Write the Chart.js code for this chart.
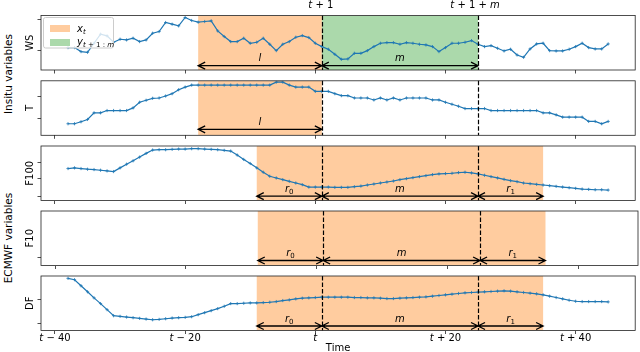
<!DOCTYPE html>
<html>
<head>
<meta charset="utf-8">
<script src="https://cdn.jsdelivr.net/npm/chart.js@4.4.1/dist/chart.umd.min.js"></script>
<style>
  html, body { margin: 0; padding: 0; background: #fff; }
  #fig { position: relative; width: 640px; height: 352px; overflow: hidden; font-family: "DejaVu Sans", sans-serif; }
  #fig canvas { position: absolute; left: 0; }
  .side { position: absolute; left: 8px; font-size: 10.5px; white-space: nowrap; color: #000;
          transform: translate(-50%, -50%) rotate(-90deg); }
</style>
</head>
<body>
<div id="fig">
  <div class="side" style="top:74px">Insitu variables</div>
  <div class="side" style="top:238px">ECMWF variables</div>
</div>
<script>
'use strict';

// time axis (hours relative to t)
var hours = [-38,-37,-36,-35,-34,-33,-32,-31,-30,-29,-28,-27,-26,-25,-24,-23,-22,-21,-20,-19,
  -18,-17,-16,-15,-14,-13,-12,-11,-10,-9,-8,-7,-6,-5,-4,-3,-2,-1,0,1,
  2,3,4,5,6,7,8,9,10,11,12,13,14,15,16,17,18,19,20,21,
  22,23,24,25,26,27,28,29,30,31,32,33,34,35,36,37,38,39,40,41,
  42,43,44,45];

var wsValues = [6.7,6.7,5.5,5.3,8.0,10.7,10.2,8.3,9.2,9.0,
  9.5,8.5,9.0,11.0,11.5,14.2,13.7,13.2,15.7,14.8,
  14.3,14.5,14.7,11.7,10.0,8.5,8.5,9.5,8.0,8.3,
  9.5,7.7,5.8,7.7,8.5,9.8,10.3,9.7,8.0,7.0,
  6.2,4.7,3.2,3.3,5.0,5.0,5.8,7.0,8.0,8.2,
  8.2,7.7,8.2,8.0,7.7,7.5,7.0,5.5,6.7,8.0,
  8.0,8.3,8.8,7.7,7.0,7.3,6.5,5.7,6.2,4.5,
  3.8,6.3,7.8,8.0,5.8,5.7,5.7,6.2,7.0,8.0,
  6.7,6.3,6.3,7.8];

var tValues = [3.5,3.5,4.1,4.8,6.8,6.8,7.5,7.5,7.5,7.5,
  8.3,10.0,10.6,11.2,11.3,11.9,12.6,13.8,14.6,15.2,
  15.2,15.2,15.2,15.2,15.2,15.2,15.2,15.2,15.2,15.2,
  15.2,15.2,16.1,16.1,15.2,14.6,14.6,14.6,13.3,13.3,
  13.3,12.6,12.0,12.0,11.3,11.3,11.3,10.7,11.3,10.7,
  11.3,10.7,11.3,11.3,11.3,11.3,10.7,10.7,10.0,9.4,
  8.8,8.1,8.1,8.1,8.1,7.5,7.5,7.5,7.5,7.5,
  7.5,7.5,7.5,6.8,6.8,6.2,5.5,5.5,5.5,5.5,
  4.2,4.2,3.5,4.2];

var f100Values = [9.5,9.7,9.5,9.3,9.2,9.0,8.8,8.6,9.7,10.8,
  11.8,12.9,14.0,15.0,15.1,15.1,15.2,15.3,15.3,15.4,
  15.4,15.3,15.2,15.1,14.9,14.7,13.5,12.2,11.0,9.7,
  8.4,7.2,6.7,6.2,5.7,5.2,4.7,4.0,4.0,4.0,
  4.0,3.9,3.9,3.9,4.1,4.3,4.6,4.9,5.2,5.5,
  5.8,6.2,6.5,6.8,7.1,7.4,7.7,7.9,8.0,8.1,
  8.3,8.4,8.2,7.9,7.5,7.1,6.7,6.3,5.9,5.6,
  5.2,5.0,4.8,4.6,4.4,4.2,4.0,3.8,3.6,3.4,
  3.3,3.2,3.2,3.1];

var f10Values = [];

var dfValues = [15.5,15.1,13.3,11.5,9.7,8.0,6.2,4.4,4.2,4.0,
  3.8,3.6,3.4,3.2,3.3,3.5,3.7,3.8,3.9,4.1,
  4.7,5.3,5.9,6.5,7.2,8.0,8.0,8.1,8.2,8.2,
  8.3,8.4,8.6,8.9,9.1,9.4,9.6,9.7,9.8,9.9,
  9.9,9.9,9.9,9.9,9.8,9.8,9.7,9.7,9.6,9.5,
  9.5,9.6,9.7,9.8,9.9,10.0,10.2,10.4,10.6,10.8,
  11.0,11.2,11.3,11.4,11.5,11.6,11.7,11.8,11.7,11.5,
  11.3,11.1,10.9,10.6,10.2,9.8,9.4,9.0,8.7,8.6,
  8.6,8.6,8.6,8.5];

// window boundaries
var lagStart = -18;
var ecmwfStart = -9;
var forecastStart = 1;
var forecastEnd = 25;
var ecmwfEnd = 35;

// ticks
var xTickValues = [-40, -20, 0, 20, 40];
var xTickLabels = ['t − 40', 't − 20', 't', 't + 20', 't + 40'];
var wsTicks = [5.9, 15.0];
var tTicks = [5.1, 11.8];
var f100Ticks = [1.3, 6.4, 11.3];
var f10Ticks = [2.5];
var dfTicks = [2.2, 9.2];

var BLUE = '#1f77b4';
var ORANGE = 'rgba(255,127,14,0.4)';
var GREEN = 'rgba(44,160,44,0.4)';
var FONT = '"DejaVu Sans", sans-serif';
var X_MIN = -42.15, X_MAX = 49.15;
var PANEL_H = 54.5;
var panelTops = [15.5, 80.8, 146, 211, 276];

var L = [{t: 'l', it: true}];
var M = [{t: 'm', it: true}];
var R0 = [{t: 'r', it: true}, {t: '0', sub: true}];
var R1 = [{t: 'r', it: true}, {t: '1', sub: true}];

// draw a string made of italic / upright / subscript parts
function drawMath(ctx, parts, x, y, size, align) {
  function fontOf(p) { return (p.it ? 'italic ' : '') + (p.sub ? size * 0.7 : size) + 'px ' + FONT; }
  var w = 0;
  parts.forEach(function(p){ ctx.font = fontOf(p); w += ctx.measureText(p.t).width; });
  var cx = align === 'center' ? x - w / 2 : x;
  parts.forEach(function(p){
    ctx.font = fontOf(p);
    ctx.fillText(p.t, cx, y + (p.sub ? size * 0.22 : 0));
    cx += ctx.measureText(p.t).width;
  });
}

function drawArrow(ctx, x0, x1, y) {
  var h = 7, w = 3.5;
  ctx.beginPath();
  ctx.moveTo(x0, y); ctx.lineTo(x1, y);
  ctx.moveTo(x0 + h, y - w); ctx.lineTo(x0, y); ctx.lineTo(x0 + h, y + w);
  ctx.moveTo(x1 - h, y - w); ctx.lineTo(x1, y); ctx.lineTo(x1 - h, y + w);
  ctx.stroke();
}

var panelDecor = {
  id: 'panelDecor',
  beforeDatasetsDraw: function(chart, args, opts) {
    var ctx = chart.ctx, a = chart.chartArea, x = chart.scales.x;
    ctx.save();
    ctx.beginPath(); ctx.rect(a.left, a.top, a.width, a.height); ctx.clip();
    (opts.spans || []).forEach(function(s){
      var x0 = x.getPixelForValue(s[0]), x1 = x.getPixelForValue(s[1]);
      ctx.fillStyle = s[2];
      ctx.fillRect(x0, a.top, x1 - x0, a.height);
    });
    ctx.restore();
  },
  afterDatasetsDraw: function(chart, args, opts) {
    var ctx = chart.ctx, a = chart.chartArea, x = chart.scales.x;
    ctx.save();
    ctx.fillStyle = '#000';
    ctx.textBaseline = 'alphabetic';

    // vertical dashed markers
    ctx.strokeStyle = '#000';
    ctx.lineWidth = 1.2;
    ctx.setLineDash([4.5, 2]);
    (opts.marks || []).forEach(function(v){
      var px = Math.round(x.getPixelForValue(v)) + 0.5;
      ctx.beginPath(); ctx.moveTo(px, a.top); ctx.lineTo(px, a.bottom); ctx.stroke();
    });
    ctx.setLineDash([]);

    // double arrows with labels
    var ay = a.bottom - opts.arrowLift;
    ctx.lineWidth = 1.3;
    (opts.arrows || []).forEach(function(r){
      var x0 = x.getPixelForValue(r[0]), x1 = x.getPixelForValue(r[1]);
      drawArrow(ctx, x0, x1, ay);
      drawMath(ctx, r[2], (x0 + x1) / 2, ay - 4.5, 10, 'center');
    });

    // frame
    ctx.lineWidth = 0.8;
    ctx.strokeStyle = '#222';
    ctx.strokeRect(a.left, a.top, a.width, a.height);

    // legend
    if (opts.legend) {
      var lx = a.left + 2.5, ly = a.top + 2;
      ctx.fillStyle = 'rgba(255,255,255,0.8)';
      ctx.strokeStyle = '#cccccc';
      ctx.lineWidth = 1;
      ctx.beginPath();
      ctx.roundRect(lx, ly, 70, 30.5, 2);
      ctx.fill(); ctx.stroke();
      ctx.fillStyle = ORANGE; ctx.fillRect(lx + 6.5, ly + 7.5, 20, 7);
      ctx.fillStyle = GREEN; ctx.fillRect(lx + 6.5, ly + 21.5, 20, 7);
      ctx.fillStyle = '#000';
      drawMath(ctx, [{t: 'x', it: true}, {t: 't', it: true, sub: true}], lx + 33.5, ly + 14, 10, 'left');
      drawMath(ctx, [{t: 'y', it: true}, {t: 't', it: true, sub: true}, {t: ' + 1 : ', sub: true}, {t: 'm', it: true, sub: true}], lx + 33.5, ly + 27, 10, 'left');
    }

    // labels above the top panel
    if (opts.topLabels) {
      ctx.fillStyle = '#000';
      drawMath(ctx, [{t: 't', it: true}, {t: ' + 1'}], x.getPixelForValue(forecastStart) - 1, 7.5, 10, 'center');
      drawMath(ctx, [{t: 't', it: true}, {t: ' + 1 + '}, {t: 'm', it: true}], x.getPixelForValue(forecastEnd) - 3, 7.5, 10, 'center');
    }

    // time tick labels under the bottom panel
    if (opts.tickLabels) {
      ctx.fillStyle = '#000';
      xTickValues.forEach(function(v, i){
        var s = xTickLabels[i];
        var parts = [{t: s.charAt(0), it: true}];
        if (s.length > 1) parts.push({t: s.slice(1)});
        drawMath(ctx, parts, x.getPixelForValue(v), a.bottom + 10.5, 10, 'center');
      });
    }
    ctx.restore();
  }
};

var panels = [
  { name: 'WS', values: wsValues, yMax: 16.3, yTicks: wsTicks, arrowLift: 4.3,
    spans: [[lagStart, forecastStart, ORANGE], [forecastStart, forecastEnd, GREEN]],
    arrows: [[lagStart, forecastStart, L], [forecastStart, forecastEnd, M]],
    legend: true, topLabels: true },
  { name: 'T', values: tValues, yMax: 16.5, yTicks: tTicks, arrowLift: 6,
    spans: [[lagStart, forecastStart, ORANGE]],
    arrows: [[lagStart, forecastStart, L]] },
  { name: 'F100', values: f100Values, yMax: 16.2, yTicks: f100Ticks, arrowLift: 4.3,
    spans: [[ecmwfStart, ecmwfEnd, ORANGE]],
    arrows: [[ecmwfStart, forecastStart, R0], [forecastStart, forecastEnd, M], [forecastEnd, ecmwfEnd, R1]] },
  { name: 'F10', values: f10Values, yMax: 16.2, yTicks: f10Ticks, arrowLift: 5,
    spans: [[ecmwfStart, ecmwfEnd, ORANGE]],
    arrows: [[ecmwfStart, forecastStart, R0], [forecastStart, forecastEnd, M], [forecastEnd, ecmwfEnd, R1]] },
  { name: 'DF', values: dfValues, yMax: 16.2, yTicks: dfTicks, arrowLift: 4.5,
    spans: [[ecmwfStart, ecmwfEnd, ORANGE]],
    arrows: [[ecmwfStart, forecastStart, R0], [forecastStart, forecastEnd, M], [forecastEnd, ecmwfEnd, R1]],
    tickLabels: true }
];

var fig = document.getElementById('fig');

panels.forEach(function(p, i){
  var last = i === panels.length - 1;
  var top = panelTops[i];
  var canvasTop = i === 0 ? 0 : Math.floor(top) - 6;
  var padTop = top - canvasTop;
  var canvasH = last ? 352 - canvasTop : Math.ceil(padTop + PANEL_H + 6);
  var xAxisH = canvasH - padTop - PANEL_H;

  var canvas = document.createElement('canvas');
  canvas.width = 640;
  canvas.height = canvasH;
  canvas.style.top = canvasTop + 'px';
  fig.appendChild(canvas);

  var points = p.values.map(function(v, k){ return {x: hours[k], y: v}; });

  new Chart(canvas, {
    type: 'line',
    data: {
      datasets: [{
        data: points,
        borderColor: BLUE,
        borderWidth: 1.2,
        pointStyle: 'cross',
        pointRadius: 1.6,
        pointBorderWidth: 0.8,
        pointBorderColor: BLUE,
        pointBackgroundColor: BLUE,
        tension: 0,
        fill: false
      }]
    },
    options: {
      responsive: false,
      animation: false,
      events: [],
      layout: { padding: { top: padTop, right: 2, bottom: 0, left: 0 } },
      scales: {
        x: {
          type: 'linear', min: X_MIN, max: X_MAX,
          afterFit: function(s){ s.height = xAxisH; },
          afterBuildTicks: function(s){ s.ticks = xTickValues.map(function(v){ return {value: v}; }); },
          ticks: { display: false },
          grid: { drawOnChartArea: false, drawTicks: true, tickLength: 3.5, color: '#222', lineWidth: 0.8 },
          border: { display: false },
          title: { display: last, text: 'Time', color: '#000',
                   font: { family: FONT, size: 10, lineHeight: 0.8 }, padding: { top: 0, bottom: 0 } }
        },
        y: {
          type: 'linear', min: 0, max: p.yMax,
          afterFit: function(s){ s.width = 41; },
          afterBuildTicks: function(s){ s.ticks = p.yTicks.map(function(v){ return {value: v}; }); },
          ticks: { display: false },
          grid: { drawOnChartArea: false, drawTicks: true, tickLength: 3.5, color: '#222', lineWidth: 0.8 },
          border: { display: false },
          title: { display: true, text: p.name, color: '#000',
                   font: { family: FONT, size: 10, lineHeight: 1.2 }, padding: { top: 24, bottom: 0 } }
        }
      },
      plugins: {
        legend: { display: false },
        tooltip: { enabled: false },
        panelDecor: {
          spans: p.spans,
          marks: [forecastStart, forecastEnd],
          arrows: p.arrows,
          arrowLift: p.arrowLift,
          legend: !!p.legend,
          topLabels: !!p.topLabels,
          tickLabels: !!p.tickLabels
        }
      }
    },
    plugins: [panelDecor]
  });
});
</script>
</body>
</html>
